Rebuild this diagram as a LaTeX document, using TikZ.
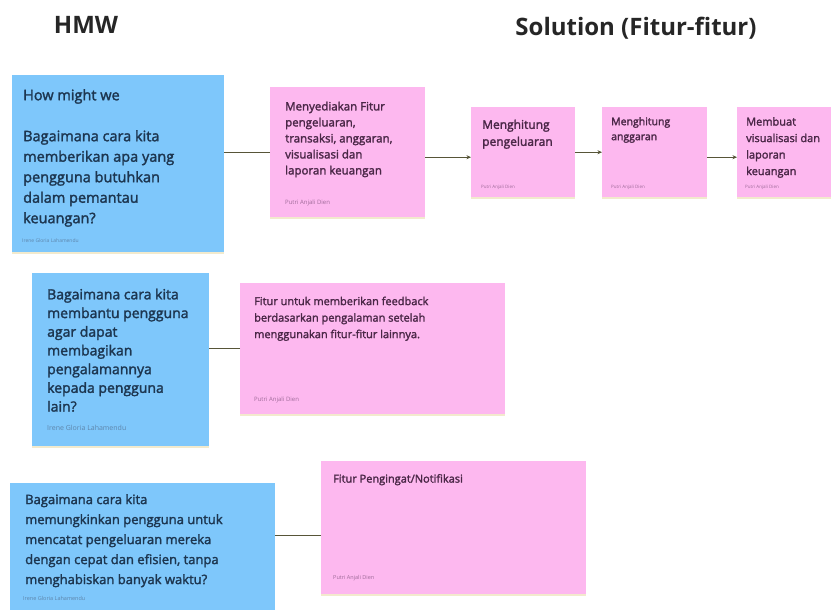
\documentclass[tikz,border=0pt]{standalone}
\usepackage{fontspec}
\setmainfont{Open Sans}
\newfontfamily\medfont{Open Sans}[FakeBold=2]
\usetikzlibrary{arrows.meta,shadows,calc}
\definecolor{noteblue}{HTML}{7EC7FB}
\definecolor{notepink}{HTML}{FDB8EF}
\definecolor{bluetxt}{HTML}{1D3650}
\definecolor{pinktxt}{HTML}{4A2747}
\definecolor{blueauth}{HTML}{5E86AC}
\definecolor{pinkauth}{HTML}{A06C9A}
\definecolor{connc}{HTML}{575538}
\definecolor{shadowc}{HTML}{EDE2B8}
\begin{document}
\begin{tikzpicture}[x=1pt,y=-1pt,
  note/.style={draw=none, inner sep=0pt, anchor=north west,
    drop shadow={shadow xshift=0pt, shadow yshift=-2pt, fill=shadowc, opacity=0.7}},
  bluenote/.style={note, fill=noteblue},
  pinknote/.style={note, fill=notepink},
  txt/.style={inner sep=0pt, anchor=north west, align=left},
  btxt/.style={txt, text=bluetxt},
  ptxt/.style={txt, text=pinktxt},
  bauth/.style={inner sep=0pt, anchor=west, text=blueauth},
  pauth/.style={inner sep=0pt, anchor=west, text=pinkauth},
  conn/.style={draw=connc, line width=1.3pt},
  arr/.style={conn, -{Stealth[length=4.5pt,width=4pt]}},
  title/.style={inner sep=0pt, text=black!85, font=\bfseries\fontsize{24}{28}\selectfont}]
\useasboundingbox (0,0) rectangle (831,610);
\fill[white] (0,0) rectangle (831,610);

% titles
\node[title] (hmw) at (86,25) {HMW};
\node[title] (sol) at (636,28) {Solution (Fitur-fitur)};

% row 1
\node[bluenote, minimum width=212pt, minimum height=177pt] (b1) at (12,75) {};
\node[btxt, font=\medfont\fontsize{14.5}{20.5}\selectfont] (b1t) at (23,89)
  {How might we\\[20.5pt]Bagaimana cara kita\\memberikan apa yang\\pengguna butuhkan\\dalam pemantau\\keuangan?};
\node[bauth, font=\fontsize{5}{6}\selectfont] (b1a) at (22,241) {Irene Gloria Lahamendu};

\node[pinknote, minimum width=155pt, minimum height=130pt] (p1) at (270,87) {};
\node[ptxt, font=\medfont\fontsize{11.5}{16}\selectfont] (p1t) at (285,101.5)
  {Menyediakan Fitur\\pengeluaran,\\transaksi, anggaran,\\visualisasi dan\\laporan keuangan};
\node[pauth, font=\fontsize{6}{7}\selectfont] (p1a) at (285,203) {Putri Anjali Dien};

\node[pinknote, minimum width=104pt, minimum height=90pt] (s2) at (471,107) {};
\node[ptxt, font=\medfont\fontsize{12}{17}\selectfont] (s2t) at (482,119.5)
  {Menghitung\\pengeluaran};
\node[pauth, font=\fontsize{4.5}{5}\selectfont] (s2a) at (481,187) {Putri Anjali Dien};

\node[pinknote, minimum width=105pt, minimum height=90pt] (s3) at (602,107) {};
\node[ptxt, font=\medfont\fontsize{10.5}{15}\selectfont] (s3t) at (611,117)
  {Menghitung\\anggaran};
\node[pauth, font=\fontsize{4.5}{5}\selectfont] (s3a) at (611,187) {Putri Anjali Dien};

\node[pinknote, minimum width=104pt, minimum height=90pt] (s4) at (737,107) {};
\node[ptxt, font=\medfont\fontsize{11}{16.5}\selectfont] (s4t) at (746,117)
  {Membuat\\visualisasi dan\\laporan\\keuangan};
\node[pauth, font=\fontsize{4.5}{5}\selectfont] (s4a) at (745,187) {Putri Anjali Dien};

\draw[conn] (p1.west) -- (p1.west -| b1.east);
\draw[arr] ([yshift=-5pt]p1.east) -- ([yshift=-5pt]s2.west);
\draw[arr] (s2.east) -- (s3.west);
\draw[arr] ([yshift=-5pt]s3.east) -- ([yshift=-5pt]s4.west);

% row 2
\node[bluenote, minimum width=177pt, minimum height=173pt] (b2) at (32,273) {};
\node[btxt, font=\medfont\fontsize{14}{18.7}\selectfont] (b2t) at (47,288.5)
  {Bagaimana cara kita\\membantu pengguna\\agar dapat\\membagikan\\pengalamannya\\kepada pengguna\\lain?};
\node[bauth, font=\fontsize{7}{8}\selectfont] (b2a) at (47,428) {Irene Gloria Lahamendu};

\node[pinknote, minimum width=265pt, minimum height=131pt] (p2) at (240,283) {};
\node[ptxt, font=\medfont\fontsize{11}{16.5}\selectfont] (p2t) at (254,296.5)
  {Fitur untuk memberikan feedback\\berdasarkan pengalaman setelah\\menggunakan fitur-fitur lainnya.};
\node[pauth, font=\fontsize{6}{7}\selectfont] (p2a) at (254,400) {Putri Anjali Dien};

\draw[conn] (p2.west) -- (p2.west -| b2.east);

% row 3
\node[bluenote, minimum width=265pt, minimum height=135pt] (b3) at (10,483) {};
\node[btxt, font=\medfont\fontsize{13}{20}\selectfont] (b3t) at (25,494)
  {Bagaimana cara kita\\memungkinkan pengguna untuk\\mencatat pengeluaran mereka\\dengan cepat dan efisien, tanpa\\menghabiskan banyak waktu?};
\node[bauth, font=\fontsize{5.5}{6}\selectfont] (b3a) at (23,598) {Irene Gloria Lahamendu};

\node[pinknote, minimum width=265pt, minimum height=133pt] (p3) at (321,461) {};
\node[ptxt, font=\medfont\fontsize{11}{16}\selectfont] (p3t) at (333,474)
  {Fitur Pengingat/Notifikasi};
\node[pauth, font=\fontsize{5.5}{6}\selectfont] (p3a) at (333,578) {Putri Anjali Dien};

\draw[conn] ([yshift=-7.5pt]p3.west) -- ([yshift=-7.5pt]p3.west -| b3.east);
\end{tikzpicture}
\end{document}
